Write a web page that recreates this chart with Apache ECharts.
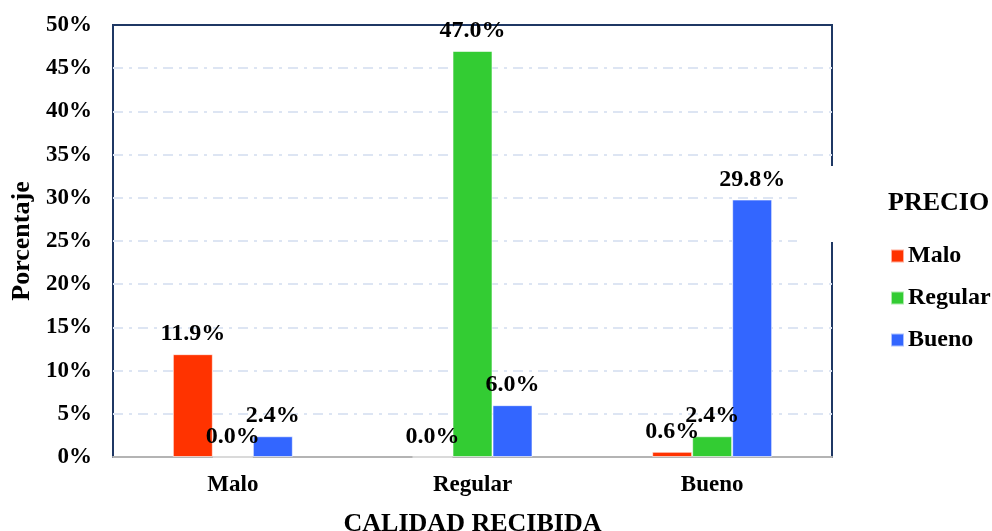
<!DOCTYPE html>
<html>
<head>
<meta charset="utf-8">
<script src="https://cdn.jsdelivr.net/npm/echarts@6/dist/echarts.min.js"></script>
<style>
  html, body { margin: 0; padding: 0; background: #ffffff; }
  #chart { width: 992px; height: 531px; }
</style>
</head>
<body>
<div id="chart"></div>
<script>
// Calidad recibida (eje X) frente a precio (series)
const categories = ['Malo', 'Regular', 'Bueno'];
const malo = [11.9, 0.0, 0.6];
const regular = [0.0, 47.0, 2.4];
const bueno = [2.4, 6.0, 29.8];
const yTicks = [0, 5, 10, 15, 20, 25, 30, 35, 40, 45, 50];

const FONT = '"Liberation Serif", "Times New Roman", serif';

const labelStyle = {
  show: true,
  position: 'top',
  distance: 8,
  color: '#000',
  fontFamily: FONT,
  fontWeight: 'bold',
  fontSize: 24,
  formatter: p => p.value.toFixed(1) + '%'
};

function barSeries(name, data, color) {
  return {
    name: name,
    type: 'bar',
    data: data,
    barWidth: 40,
    barGap: '0%',
    itemStyle: { color: color, borderColor: 'rgba(255,255,255,0.6)', borderWidth: 1 },
    label: labelStyle,
    z: 3
  };
}

const chart = echarts.init(document.getElementById('chart'), null, { renderer: 'canvas' });

chart.setOption({
  animation: false,
  backgroundColor: '#ffffff',
  title: {
    text: 'PRECIO',
    left: 883,
    top: 185,
    z: 20,
    textStyle: { fontFamily: FONT, fontWeight: 'bold', fontSize: 26, color: '#000' }
  },
  legend: {
    orient: 'vertical',
    left: 885,
    top: 239,
    itemWidth: 13,
    itemHeight: 13,
    itemGap: 18,
    z: 20,
    icon: 'rect',
    textStyle: { fontFamily: FONT, fontWeight: 'bold', fontSize: 24, color: '#000', padding: [0, 0, 0, -1] },
    data: ['Malo', 'Regular', 'Bueno']
  },
  graphic: [{
    type: 'rect',
    shape: { x: 797, y: 166, width: 195, height: 76 },
    style: { fill: '#ffffff' },
    z: 10
  }],
  grid: {
    left: 113,
    right: 160,
    top: 25,
    bottom: 74,
    outerBoundsMode: 'none',
    containLabel: false,
    show: true,
    borderColor: '#1f3864',
    borderWidth: 2,
    backgroundColor: 'transparent'
  },
  xAxis: {
    type: 'category',
    data: categories,
    name: 'CALIDAD RECIBIDA',
    nameLocation: 'middle',
    nameGap: 54,
    nameTextStyle: { fontFamily: FONT, fontWeight: 'bold', fontSize: 26, color: '#000' },
    axisLine: { lineStyle: { color: '#b4b4b4', width: 2 } },
    axisTick: { show: false },
    axisLabel: { margin: 17, fontFamily: FONT, fontWeight: 'bold', fontSize: 23, color: '#000' }
  },
  yAxis: {
    type: 'value',
    min: yTicks[0],
    max: yTicks[yTicks.length - 1],
    interval: 5,
    name: 'Porcentaje',
    nameLocation: 'middle',
    nameGap: 76,
    nameTextStyle: { fontFamily: FONT, fontWeight: 'bold', fontSize: 26, color: '#000' },
    axisLine: { show: false },
    axisTick: { show: false },
    axisLabel: {
      margin: 21,
      fontFamily: FONT, fontWeight: 'bold', fontSize: 23, color: '#000',
      formatter: v => v + '%'
    },
    splitLine: {
      show: true,
      showMinLine: false,
      showMaxLine: false,
      lineStyle: { color: '#dde5f3', width: 2, type: [10, 6, 3, 6] }
    }
  },
  series: [
    barSeries('Malo', malo, '#ff3300'),
    barSeries('Regular', regular, '#33cc33'),
    barSeries('Bueno', bueno, '#3366ff')
  ]
});
</script>
</body>
</html>
